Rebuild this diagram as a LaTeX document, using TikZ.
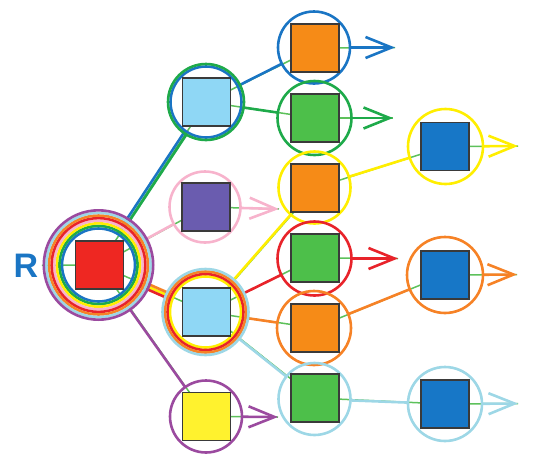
\documentclass[tikz,border=0pt]{standalone}
\usepackage{fontspec}
\setmainfont{Liberation Sans}
\usetikzlibrary{arrows.meta}
\definecolor{cblue}{HTML}{1A75C4}
\definecolor{cgreen}{HTML}{1EAA4A}
\definecolor{cyellow}{HTML}{FFEE00}
\definecolor{cpink}{HTML}{F7B3CC}
\definecolor{cred}{HTML}{E8232A}
\definecolor{corange}{HTML}{F68226}
\definecolor{clblue}{HTML}{9DD7E6}
\definecolor{cpurple}{HTML}{9B4A9F}
\definecolor{fred}{HTML}{EE2722}
\definecolor{flblue}{HTML}{8FD7F5}
\definecolor{fpurple}{HTML}{6A5CAF}
\definecolor{fyellow}{HTML}{FFF22E}
\definecolor{forange}{HTML}{F68B17}
\definecolor{fgreen}{HTML}{4DBF4A}
\definecolor{fblue}{HTML}{1777C7}
\definecolor{glinec}{HTML}{5DC15B}
\definecolor{sqborder}{HTML}{3A3A3A}
\pgfdeclarelayer{bg}
\pgfdeclarelayer{mid}
\pgfsetlayers{bg,mid,main}
\begin{document}
\begin{tikzpicture}[x=1pt,y=-1pt,
  sq/.style={draw=sqborder, fill=#1, line width=1.1pt, minimum size=48pt, inner sep=0pt, outer sep=0pt},
  ring/.style={circle, draw=#1, line width=2.6pt, inner sep=0pt, outer sep=0pt},
  cline/.style={draw=#1, line width=2.6pt},
  gline/.style={draw=glinec, line width=1.5pt},
  arr/.style={draw=#1, line width=2.6pt, -{Straight Barb[length=26pt,width=21pt]}},
]
\useasboundingbox (0,0) rectangle (533,461);

% root rings
\node[ring=cblue,   minimum size=73pt]   (rB)  at (98.5,265) {};
\node[ring=cgreen,  minimum size=78.2pt] (rG)  at (98.5,265) {};
\node[ring=cyellow, minimum size=83.4pt] (rY)  at (98.5,265) {};
\node[ring=cpink,   minimum size=88.6pt] (rP)  at (98.5,265) {};
\node[ring=cred,    minimum size=93.8pt] (rR)  at (98.5,265) {};
\node[ring=corange, minimum size=99pt]   (rO)  at (98.5,265) {};
\node[ring=clblue,  minimum size=104.2pt] (rL) at (98.5,265) {};
\node[ring=cpurple, minimum size=109.4pt] (rU) at (98.5,265) {};
\node[sq=fred] (root) at (99.5,265) {};
\node[text=cblue, font=\bfseries\fontsize{34}{34}\selectfont] (rlab) at (26,265.5) {R};

% level 1
\node[ring=cblue,  minimum size=71pt] (aB) at (206,102) {};
\node[ring=cgreen, minimum size=76pt] (aG) at (206,102) {};
\node[sq=flblue] (a) at (206.5,102) {};

\node[ring=cpink, minimum size=71pt] (bP) at (205,207) {};
\node[sq=fpurple] (b) at (206,207) {};

\node[ring=cyellow, minimum size=71pt] (cY) at (205.5,312) {};
\node[ring=cred,    minimum size=76pt] (cR) at (205.5,312) {};
\node[ring=corange, minimum size=81pt] (cO) at (205.5,312) {};
\node[ring=clblue,  minimum size=86pt] (cL) at (205.5,312) {};
\node[sq=flblue] (c) at (206.5,312) {};

\node[ring=cpurple, minimum size=72pt] (dU) at (206,416.5) {};
\node[sq=fyellow] (d) at (206.5,416.5) {};

% level 2
\node[ring=cblue,   minimum size=72pt] (eR) at (314,47.5) {};
\node[sq=forange] (e) at (315,48) {};
\node[ring=cgreen,  minimum size=74pt] (fR) at (314.5,118) {};
\node[sq=fgreen] (f) at (315,118) {};
\node[ring=cyellow, minimum size=72pt] (gR) at (314.5,187.5) {};
\node[sq=forange] (g) at (315,188) {};
\node[ring=cred,    minimum size=74pt] (hR) at (314.5,258.5) {};
\node[sq=fgreen] (h) at (315,258) {};
\node[ring=corange, minimum size=74pt] (iR) at (314,328) {};
\node[sq=forange] (i) at (315,328) {};
\node[ring=clblue,  minimum size=72pt] (jR) at (314.5,399) {};
\node[sq=fgreen] (j) at (315,398) {};

% level 3
\node[ring=cyellow, minimum size=75pt] (kR) at (445.5,146.5) {};
\node[sq=fblue] (k) at (445,146.5) {};
\node[ring=corange, minimum size=76pt] (lR) at (445,275) {};
\node[sq=fblue] (l) at (445,275) {};
\node[ring=clblue,  minimum size=74pt] (mR) at (445,404) {};
\node[sq=fblue] (m) at (445,404) {};

% arrow tips
\coordinate (eT) at (395,47.5);
\coordinate (fT) at (393,118);
\coordinate (bT) at (279,209);
\coordinate (dT) at (278,417);
\coordinate (hT) at (398,258.5);
\coordinate (kT) at (518,146);
\coordinate (lT) at (517,274.5);
\coordinate (mT) at (518,403.5);

\begin{pgfonlayer}{bg}
  \draw[gline] (rlab) -- (root);
  \draw[gline] (root) -- (a);
  \draw[gline] (root) -- (b);
  \draw[gline] (root) -- (c);
  \draw[gline] (root) -- (d);
  \draw[gline] (a) -- (e);
  \draw[gline] (a) -- (f);
  \draw[gline] (c) -- (g);
  \draw[gline] (c) -- (h);
  \draw[gline] (c) -- (i);
  \draw[gline] (c) -- (j);
  \draw[gline] (g) -- (k);
  \draw[gline] (i) -- (l);
  \draw[gline] (j) -- (m);
  \draw[gline] (e) -- (eT);
  \draw[gline] (f) -- (fT);
  \draw[gline] (b) -- (bT);
  \draw[gline] (d) -- (dT);
  \draw[gline] (h) -- (hT);
  \draw[gline] (k) -- (kT);
  \draw[gline] (l) -- (lT);
  \draw[gline] (m) -- (mT);
\end{pgfonlayer}

\begin{pgfonlayer}{mid}
  \draw[cline=cblue,  transform canvas={xshift=-1.3pt,yshift=0.85pt}] (rB) -- (aB);
  \draw[cline=cgreen, transform canvas={xshift=1.3pt,yshift=-0.85pt}] (rG) -- (aG);
  \draw[cline=cpink] (rP) -- (bP);
  \draw[cline=clblue] (rL) -- (cL);
  \draw[cline=cyellow] (rY) -- (cY);
  \draw[cline=corange, transform canvas={xshift=1.05pt,yshift=2.4pt}] (rO) -- (cO);
  \draw[cline=cred,    transform canvas={xshift=-1.05pt,yshift=-2.4pt}] (rR) -- (cR);
  \draw[cline=cpurple] (rU) -- (dU);
  \draw[cline=cblue]   (aB) -- (eR);
  \draw[cline=cgreen]  (aG) -- (fR);
  \draw[cline=cyellow] (cY) -- (gR);
  \draw[cline=cred]    (cR) -- (hR);
  \draw[cline=corange] (cO) -- (iR);
  \draw[cline=clblue]  (cL) -- (jR);
  \draw[cline=cyellow] (gR) -- (kR);
  \draw[cline=corange] (iR) -- (lR);
  \draw[cline=clblue]  (jR) -- (mR);
  \draw[arr=cblue]   (eR) -- (eT);
  \draw[arr=cgreen]  (fR) -- (fT);
  \draw[arr=cpink]   (bP) -- (bT);
  \draw[arr=cpurple] (dU) -- (dT);
  \draw[arr=cred]    (hR) -- (hT);
  \draw[arr=cyellow] (kR) -- (kT);
  \draw[arr=corange] (lR) -- (lT);
  \draw[arr=clblue]  (mR) -- (mT);
\end{pgfonlayer}
\end{tikzpicture}
\end{document}
